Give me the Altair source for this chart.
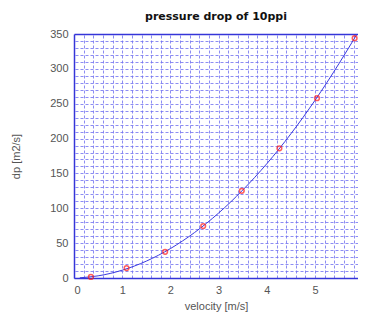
import altair as alt
import pandas as pd

# measured points
velocity = [0.35, 1.09, 1.89, 2.68, 3.48, 4.26, 5.04, 5.82]
dp = [1.5, 14.3, 37.5, 74.5, 125, 186, 258, 344]

# fitted curve
fit_v = [0.12, 0.5, 1.0, 1.5, 2.0, 2.5, 3.0, 3.5, 4.0, 4.5, 5.0, 5.5, 5.87]
fit_dp = [0.3, 3.1, 11.2, 24.2, 42.2, 65.2, 93.2, 126.2, 164, 207, 255, 308, 350]

# axis ticks / grid
x_labels = [0, 1, 2, 3, 4, 5]
x_grid = [round(i * 0.2, 1) for i in range(30)]
y_labels = [0, 50, 100, 150, 200, 250, 300, 350]
y_grid = list(range(0, 351, 10))

pts = pd.DataFrame({"v": velocity, "dp": dp})
fit = pd.DataFrame({"v": fit_v, "dp": fit_dp})

xs = alt.Scale(domain=[0, 5.89], nice=False)
ys = alt.Scale(domain=[0, 350], nice=False)

BLUE = "#3535d8"
LABEL = "#555555"
FONT = "Liberation Sans"

grid_x = alt.Axis(orient="top", values=x_grid, grid=True, gridColor="#7070f0",
                  gridDash=[3, 2], gridOpacity=0.8, labels=False, ticks=False,
                  domain=True, domainColor=BLUE, domainWidth=1.5, title=None)
grid_y = alt.Axis(orient="right", values=y_grid, grid=True, gridColor="#7070f0",
                  gridDash=[3, 2], gridOpacity=0.8, labels=False, ticks=False,
                  domain=False, title=None)

line = alt.Chart(fit).mark_line(color="#3a3ae0", strokeWidth=1, interpolate="monotone").encode(
    x=alt.X("v:Q", scale=xs, axis=grid_x),
    y=alt.Y("dp:Q", scale=ys, axis=grid_y),
)

main_x = alt.Axis(orient="bottom", values=x_labels, grid=False, ticks=False,
                  domain=True, domainColor=BLUE, domainWidth=1.5,
                  labelColor=LABEL, labelFont=FONT, labelFontSize=11, labelPadding=6,
                  title="velocity [m/s]", titleColor=LABEL, titleFont=FONT,
                  titleFontSize=11, titleFontWeight="normal", titlePadding=5)
main_y = alt.Axis(orient="left", values=y_labels, grid=False, ticks=False,
                  domain=True, domainColor=BLUE, domainWidth=1.5,
                  labelColor=LABEL, labelFont=FONT, labelFontSize=11, labelPadding=6,
                  title="dp [m2/s]", titleColor=LABEL, titleFont=FONT,
                  titleFontSize=11, titleFontWeight="normal", titlePadding=28)

points = alt.Chart(pts).mark_point(shape="circle", size=22, color="#ff1a1a",
                                   strokeWidth=1.5, filled=False).encode(
    x=alt.X("v:Q", scale=xs, axis=main_x),
    y=alt.Y("dp:Q", scale=ys, axis=main_y),
)

chart = alt.layer(line, points).resolve_axis(x="independent", y="independent").properties(
    width=284, height=244,
    autosize=alt.AutoSizeParams(type="none"),
    padding={"left": 66, "top": 26, "right": 0, "bottom": 36},
    title=alt.TitleParams("pressure drop of 10ppi", font="DejaVu Sans", fontSize=11,
                          fontWeight="bold", color="#111111", offset=6, anchor="middle"),
).configure_view(strokeWidth=0)

chart.save("out.html", embed_options={"renderer": "svg", "actions": False})
